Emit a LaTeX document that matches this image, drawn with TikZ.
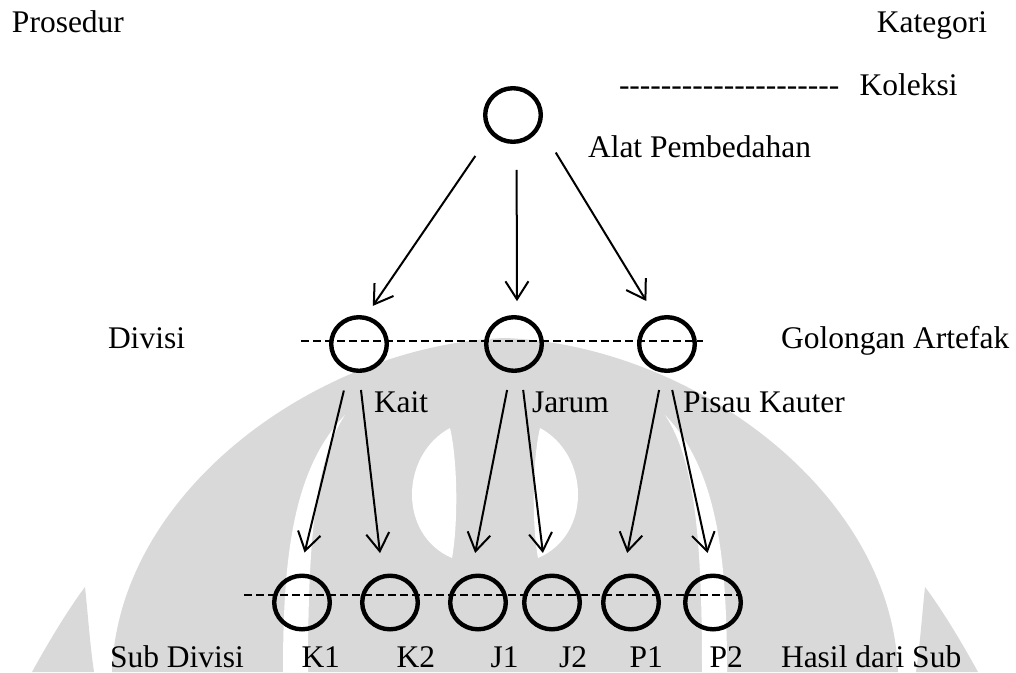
\documentclass[tikz,border=0pt]{standalone}
\usepackage{fontspec}
\setmainfont{Liberation Serif}
\usetikzlibrary{arrows.meta,shapes.geometric}
\definecolor{wm}{RGB}{217,217,217}
\newcommand\hy{\hbox{-}}
\newcommand\wmhalf{%
  \fill[wm] (32,672) .. controls (55,630) and (75,600) .. (85,587)
     .. controls (88,615) and (90,645) .. (94,672) -- cycle;
  \fill[white] (283,672) .. controls (283,560) and (292,470) .. (345,415)
     .. controls (315,460) and (308,540) .. (308,672) -- cycle;
}
\newcommand\wmring{%
  \fill[white] (450,428) .. controls (400,455) and (398,535) .. (452,558)
     .. controls (458,525) and (458,462) .. (450,428) -- cycle;
}
\begin{document}
\begin{tikzpicture}[x=1pt,y=-1pt,
  font=\fontsize{31.5}{36}\selectfont,
  txt/.style={inner sep=0pt,outer sep=0pt},
  circ/.style={ellipse,draw,line width=4.4pt,minimum width=55.6pt,minimum height=53.6pt,inner sep=0pt},
  arr/.style={line width=2pt,-{Straight Barb[length=18pt,width=23pt]}},
  dline/.style={line width=2pt,dash pattern=on 8pt off 4pt}]
\useasboundingbox (0,0) rectangle (1016,672);
% watermark
\fill[wm] (112,672) .. controls (118,490) and (320,345) .. (505,338)
   .. controls (690,345) and (892,490) .. (898,672) -- cycle;
\wmhalf
\begin{scope}[shift={(1010,0)},xscale=-1]\wmhalf\end{scope}
\wmring
\begin{scope}[shift={(990,0)},xscale=-1]\wmring\end{scope}
% texts
\node[txt,anchor=base west] (pros) at (12,32) {Prosedur};
\node[txt,anchor=base east] (kat) at (987,32) {Kategori};
\node[txt,anchor=base west] (kol) at (619,95) {\hy\hy\hy\hy\hy\hy\hy\hy\hy\hy\hy\hy\hy\hy\hy\hy\hy\hy\hy\hy\hy\hspace{20.3pt}Koleksi};
\node[txt,anchor=base west] (alat) at (588,157) {Alat Pembedahan};
\node[txt,anchor=base west] (div) at (108,348) {Divisi};
\node[txt,anchor=base west] (gol) at (781,348) {Golongan Artefak};
\node[txt,anchor=base west] (kait) at (374,412) {Kait};
\node[txt,anchor=base west] (jar) at (532,412) {Jarum};
\node[txt,anchor=base west] (pis) at (683,412) {Pisau Kauter};
\node[txt,anchor=base west] (sub) at (110,667) {Sub Divisi};
\node[txt,anchor=base west] (lk1) at (301.5,667) {K1};
\node[txt,anchor=base west] (lk2) at (396.5,667) {K2};
\node[txt,anchor=base west] (lj1) at (490.5,667) {J1};
\node[txt,anchor=base west] (lj2) at (559,667) {J2};
\node[txt,anchor=base west] (lp1) at (629.5,667) {P1};
\node[txt,anchor=base west] (lp2) at (709.5,667) {P2};
\node[txt,anchor=base west] (has) at (781,667) {Hasil dari Sub};
% dashed lines
\coordinate (d1a) at (301,341); \coordinate (d1b) at (703,341);
\coordinate (d2a) at (244,595); \coordinate (d2b) at (740,595);
\draw[dline] (d1a) -- (d1b);
\draw[dline] (d2a) -- (d2b);
% circles
\node[circ] (T) at (513,115) {};
\node[circ] (M1) at (359,344) {};
\node[circ] (M2) at (514,344) {};
\node[circ] (M3) at (667,344) {};
\node[circ] (K1) at (302,602.5) {};
\node[circ] (K2) at (390,602.5) {};
\node[circ] (J1) at (478,602.5) {};
\node[circ] (J2) at (552,602.5) {};
\node[circ] (P1) at (631,602.5) {};
\node[circ] (P2) at (713,602.5) {};
% arrows
\draw[arr,shorten <=26.6pt,shorten >=12pt] (T.220) -- (M1.76);
\draw[arr,shorten <=26pt,shorten >=14pt] (T.277) -- (M2.84);
\draw[arr,shorten <=29.8pt,shorten >=18.7pt] (T.336) -- (M3.112);
\draw[arr,shorten <=19.9pt,shorten >=21.7pt] (M1.249) -- (K1.95);
\draw[arr,shorten <=17.1pt,shorten >=21.5pt] (M1.270) -- (K2.105);
\draw[arr,shorten <=17.5pt,shorten >=21.7pt] (M2.263) -- (J1.104);
\draw[arr,shorten <=17.9pt,shorten >=21.4pt] (M2.284) -- (J2.103);
\draw[arr,shorten <=17.7pt,shorten >=22pt] (M3.261) -- (P1.106);
\draw[arr,shorten <=17.4pt,shorten >=21pt] (M3.273) -- (P2.92);
\end{tikzpicture}
\end{document}
